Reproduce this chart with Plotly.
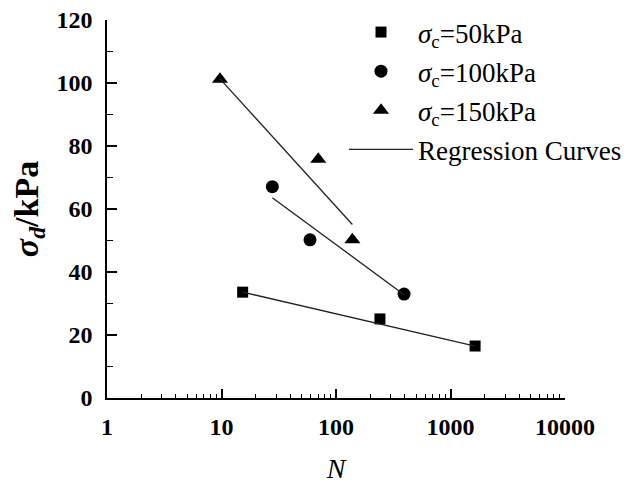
import plotly.graph_objects as go

# Data
n_50 = [15.3, 242, 1640]
s_50 = [33.6, 25.1, 16.5]
n_100 = [27.8, 59.3, 393]
s_100 = [67.1, 50.2, 33.0]
n_150 = [9.7, 70, 139]
s_150 = [101.2, 75.8, 50.2]

# regression lines (end points)
reg_n_50 = [15.3, 1640]
reg_s_50 = [33.6, 16.5]
reg_n_100 = [27.8, 393]
reg_s_100 = [63.6, 32.8]
reg_n_150 = [9.7, 139]
reg_s_150 = [101.3, 55.1]

x_ticks = [1, 10, 100, 1000, 10000]
x_ticklabels = ["1", "10", "100", "1000", "10000"]
y_ticks = [0, 20, 40, 60, 80, 100, 120]

FONT = "Liberation Serif, Times New Roman, serif"
fig = go.Figure()

fig.add_trace(go.Scatter(x=n_50, y=s_50, mode="markers", name="<i>σ</i><sub>c</sub>=50kPa",
                         marker=dict(symbol="square", size=11, color="black"), legendgroup="a"))
fig.add_trace(go.Scatter(x=n_100, y=s_100, mode="markers", name="<i>σ</i><sub>c</sub>=100kPa",
                         marker=dict(symbol="circle", size=13, color="black"), legendgroup="b"))
fig.add_trace(go.Scatter(x=n_150, y=s_150, mode="markers", name="<i>σ</i><sub>c</sub>=150kPa",
                         marker=dict(symbol="triangle-up", size=14, color="black"), legendgroup="c"))
for i, (rx, ry) in enumerate([(reg_n_50, reg_s_50), (reg_n_100, reg_s_100), (reg_n_150, reg_s_150)]):
    fig.add_trace(go.Scatter(x=rx, y=ry, mode="lines", name="Regression Curves",
                             line=dict(color="#222222", width=1.3), legendgroup="d",
                             showlegend=(i == 0)))

axis_common = dict(showline=True, linecolor="black", linewidth=1.5, ticks="inside",
                   tickcolor="black", tickwidth=1.5, showgrid=False, zeroline=False,
                   tickfont=dict(family=FONT, size=24, color="black", weight="bold"),
                   mirror=False, automargin=False, ticklabeloverflow="allow")

fig.update_xaxes(type="log", range=[0, 4], tickvals=x_ticks, ticktext=x_ticklabels,
                 ticklen=9, ticklabelstandoff=6,
                 minor=dict(ticks="inside", ticklen=4, tickcolor="black", tickwidth=1,
                            dtick="D1", showgrid=False),
                 title=dict(text="<i>N</i>", font=dict(family=FONT, size=28, color="black"),
                            standoff=20),
                 **axis_common)
fig.update_yaxes(range=[0, 120], tickvals=y_ticks, ticklen=10, ticklabelstandoff=8,
                 minor=dict(ticks="inside", ticklen=6, tickcolor="black", tickwidth=1,
                            dtick=10, showgrid=False),
                 title=dict(text="<i>σ<sub>d</sub></i>/kPa",
                            font=dict(family=FONT, size=34, color="black", weight="bold"),
                            standoff=10),
                 **axis_common)

fig.update_layout(
    width=631, height=476,
    margin=dict(l=99, r=74, t=12, b=86, autoexpand=False),
    plot_bgcolor="white", paper_bgcolor="white",
    legend=dict(xref="container", yref="container", x=0.5325, y=1.011,
                xanchor="left", yanchor="top",
                font=dict(family=FONT, size=27, color="black"),
                bgcolor="rgba(0,0,0,0)", tracegroupgap=1, itemwidth=64),
    showlegend=True,
)

fig.write_html("out.html")
